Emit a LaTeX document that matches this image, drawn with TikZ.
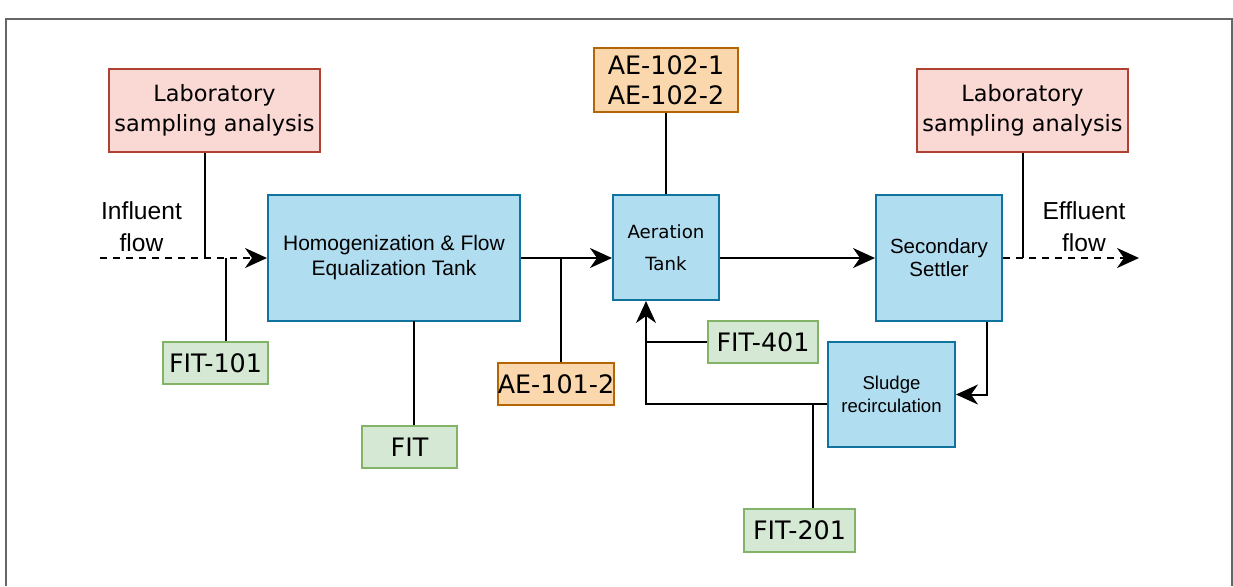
\documentclass[tikz,border=0pt]{standalone}
\usepackage{fontspec}
\setmainfont{DejaVu Sans}
\newfontfamily\arialfont{Liberation Sans}
\usepackage{tikz}
\usetikzlibrary{arrows.meta}

\definecolor{tankfill}{HTML}{B1DDF0}
\definecolor{tankline}{HTML}{10739E}
\definecolor{labfill}{HTML}{FAD9D5}
\definecolor{labline}{HTML}{AE4132}
\definecolor{aefill}{HTML}{FAD7AC}
\definecolor{aeline}{HTML}{B46504}
\definecolor{fitfill}{HTML}{D5E8D4}
\definecolor{fitline}{HTML}{82B366}

\begin{document}
\begin{tikzpicture}[x=0.5pt, y=-0.5pt,
    box/.style={line width=1pt, inner sep=0pt, align=center},
    tank/.style={box, draw=tankline, fill=tankfill},
    lab/.style={box, draw=labline, fill=labfill,
      minimum width=105.5pt, minimum height=41.5pt,
      font=\fontsize{11.2}{15}\selectfont},
    sensor/.style={box, minimum height=21pt,
      font=\fontsize{12.7}{15}\selectfont},
    fitbox/.style={sensor, draw=fitline, fill=fitfill},
    aebox/.style={sensor, draw=aeline, fill=aefill},
    pipe/.style={line width=1pt},
    flow/.style={pipe, -{Stealth[length=11pt, width=10pt, inset=3.5pt]}},
    outside/.style={flow, dash pattern=on 3.5pt off 3pt},
    stream/.style={align=center, font=\arialfont\fontsize{12.3}{16}\selectfont},
  ]
  \useasboundingbox (0,0) rectangle (1233,586);
  \draw[line width=1pt, black!60] (6,586) -- (6,19) -- (1232,19) -- (1232,586);

  % process units
  \node[tank, minimum width=126pt, minimum height=63pt,
    font=\arialfont\fontsize{10.5}{12.5}\selectfont] (homog) at (394,258)
    {Homogenization \& Flow\\Equalization Tank};
  \node[tank, minimum width=53pt, minimum height=52.5pt,
    font=\fontsize{9.1}{16}\selectfont] (aer) at (666,247.5) {Aeration\\Tank};
  \node[tank, minimum width=63pt, minimum height=63pt,
    font=\arialfont\fontsize{10.25}{11.5}\selectfont] (settler) at (939,258)
    {Secondary\\Settler};
  \node[tank, minimum width=63.5pt, minimum height=52.5pt,
    font=\arialfont\fontsize{9.3}{11.5}\selectfont] (sludge) at (891.5,394.5)
    {Sludge\\recirculation};

  % sampling
  \node[lab] (labIn) at (214.5,110.5) {Laboratory\\sampling analysis};
  \node[lab] (labOut) at (1022.5,110.5) {Laboratory\\sampling analysis};

  % instruments
  \node[aebox, minimum width=72pt, minimum height=32pt] (ae102) at (666,80)
    {AE-102-1\\AE-102-2};
  \node[aebox, minimum width=58pt] (ae101) at (556,384) {AE-101-2};
  \node[fitbox, minimum width=52.5pt] (fit101) at (215.5,363) {FIT-101};
  \node[fitbox, minimum width=47.5pt] (fit) at (409.5,447) {FIT};
  \node[fitbox, minimum width=55pt] (fit401) at (763,342) {FIT-401};
  \node[fitbox, minimum width=55.5pt, minimum height=21.5pt] (fit201) at (799.5,530.5) {FIT-201};

  \node[stream] (influent) at (141.5,227) {Influent\\flow};
  \node[stream] (effluent) at (1084,227) {Effluent\\flow};

  \coordinate (inStart) at (100,258);
  \coordinate (inLab) at (205,258);
  \coordinate (inFit) at (226,258);
  \coordinate (fitTap) at (414,321);
  \coordinate (aeTap) at (561,258);
  \coordinate (outEnd) at (1139,258);
  \coordinate (outLab) at (1023,258);
  \coordinate (sludgeDrop) at (987,394.5);
  \coordinate (ret) at (646,404);
  \coordinate (fit201Tap) at (813,404);
  \coordinate (fit401Tap) at (647,342);

  % main line
  \draw[outside] (inStart) -- (homog.west);
  \draw[flow] (homog.east) -- (homog.east -| aer.west);
  \draw[flow] (aer.east |- settler.west) -- (settler.west);
  \draw[outside] (settler.east) -- (outEnd);

  % recirculation
  \draw[flow] (settler.south -| sludgeDrop) -- (sludgeDrop) -- (sludge.east);
  \draw[flow] (sludge.west |- ret) -- (ret) -- (ret |- aer.south);

  % measurement taps
  \draw[pipe] (labIn.south -| inLab) -- (inLab);
  \draw[pipe] (labOut.south -| outLab) -- (outLab);
  \draw[pipe] (inFit) -- (fit101.north -| inFit);
  \draw[pipe] (fitTap) -- (fitTap |- fit.north);
  \draw[pipe] (aeTap) -- (ae101.north -| aeTap);
  \draw[pipe] (ae102.south) -- (aer.north);
  \draw[pipe] (fit401.west) -- (fit401Tap);
  \draw[pipe] (fit201Tap) -- (fit201.north -| fit201Tap);
\end{tikzpicture}
\end{document}
